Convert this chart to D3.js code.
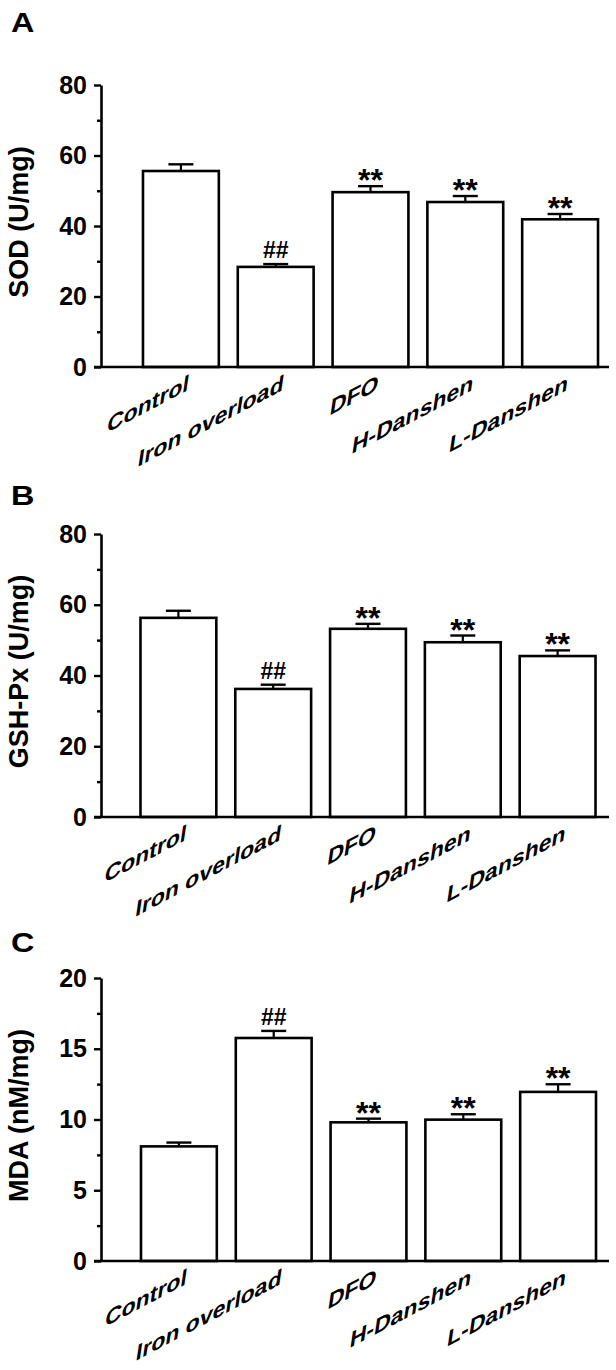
<!DOCTYPE html>
<html>
<head>
<meta charset="utf-8">
<script src="https://cdn.jsdelivr.net/npm/d3@7"></script>
<style>
  html, body { margin: 0; padding: 0; background: #fff; }
  svg { display: block; font-family: "Liberation Sans", Arial, sans-serif; }
</style>
</head>
<body>
<svg id="chart" width="616" height="1370"></svg>
<script>
// ---- data ----
const categories = ["Control", "Iron overload", "DFO", "H-Danshen", "L-Danshen"];

const sodMean = [55.6, 28.4, 49.6, 46.8, 41.9];
const sodSem  = [1.9, 0.8, 1.7, 1.7, 1.5];
const sodMarks = ["", "##", "**", "**", "**"];
const sodTicks = [0, 20, 40, 60, 80];
const sodMinor = [10, 30, 50, 70];

const gshMean = [56.3, 36.2, 53.2, 49.4, 45.5];
const gshSem  = [2.0, 1.2, 1.4, 1.9, 1.6];
const gshMarks = ["", "##", "**", "**", "**"];
const gshTicks = [0, 20, 40, 60, 80];
const gshMinor = [10, 30, 50, 70];

const mdaMean = [8.1, 15.76, 9.8, 9.99, 11.95];
const mdaSem  = [0.27, 0.5, 0.26, 0.38, 0.54];
const mdaMarks = ["", "##", "**", "**", "**"];
const mdaTicks = [0, 5, 10, 15, 20];
const mdaMinor = [2.5, 7.5, 12.5, 17.5];

const panelLetters = ["A", "B", "C"];
const yTitles = ["SOD (U/mg)", "GSH-Px (U/mg)", "MDA (nM/mg)"];

// ---- layout ----
const svg = d3.select("#chart");
const axisX = 101;
const xEnd = 609;
const panels = [
  { letter: panelLetters[0], title: yTitles[0], mean: sodMean, sem: sodSem, marks: sodMarks, ticks: sodTicks, minor: sodMinor, max: 80, top: 85, bottom: 367, letterY: 32, shift: 0 },
  { letter: panelLetters[1], title: yTitles[1], mean: gshMean, sem: gshSem, marks: gshMarks, ticks: gshTicks, minor: gshMinor, max: 80, top: 534, bottom: 817, letterY: 505, shift: -2.5 },
  { letter: panelLetters[2], title: yTitles[2], mean: mdaMean, sem: mdaSem, marks: mdaMarks, ticks: mdaTicks, minor: mdaMinor, max: 20, top: 978, bottom: 1261, letterY: 952, shift: -2 }
];

panels.forEach(p => {
  const g = svg.append("g");
  const y = d3.scaleLinear().domain([0, p.max]).range([p.bottom, p.top]);
  const x = d3.scaleBand()
    .domain(categories)
    .range([133.5 + p.shift, 607.5 + p.shift])
    .paddingInner(0.2)
    .paddingOuter(0.1);
  const cx = c => x(c) + x.bandwidth() / 2;

  // panel letter
  g.append("text")
    .attr("transform", `translate(11,${p.letterY}) scale(1.2,1)`)
    .attr("font-size", 27).attr("font-weight", "bold")
    .text(p.letter);

  // y title
  g.append("text")
    .attr("transform", `translate(28,${(p.top + p.bottom) / 2 - 4}) rotate(-90)`)
    .attr("text-anchor", "middle")
    .attr("font-size", 27).attr("font-weight", "bold")
    .text(p.title);

  const data = categories.map((c, i) => ({ c, m: p.mean[i], s: p.sem[i], mark: p.marks[i] }));

  // error bars (upper half)
  g.selectAll(".err").data(data).join("line")
    .attr("x1", d => cx(d.c)).attr("x2", d => cx(d.c))
    .attr("y1", d => y(d.m)).attr("y2", d => y(d.m + d.s))
    .attr("stroke", "#000").attr("stroke-width", 2.2);
  g.selectAll(".cap").data(data).join("line")
    .attr("x1", d => cx(d.c) - 12.5).attr("x2", d => cx(d.c) + 12.5)
    .attr("y1", d => y(d.m + d.s)).attr("y2", d => y(d.m + d.s))
    .attr("stroke", "#000").attr("stroke-width", 2.4);

  // bars
  g.selectAll(".bar").data(data).join("rect")
    .attr("x", d => x(d.c))
    .attr("y", d => y(d.m))
    .attr("width", x.bandwidth())
    .attr("height", d => y(0) - y(d.m))
    .attr("fill", "#fff").attr("stroke", "#000").attr("stroke-width", 2.6);

  // significance marks
  g.selectAll(".mark").data(data.filter(d => d.mark)).join("text")
    .attr("x", d => cx(d.c))
    .attr("y", d => d.mark === "**" ? y(d.m + d.s) + 5 : y(d.m + d.s) - 6)
    .attr("text-anchor", "middle")
    .attr("font-weight", "bold")
    .attr("font-size", d => d.mark === "**" ? 32 : 23)
    .text(d => d.mark);

  // y axis: major ticks
  const yAxis = d3.axisLeft(y).tickValues(p.ticks).tickSize(7).tickSizeOuter(0).tickPadding(7);
  const ya = g.append("g").attr("transform", `translate(${axisX},0)`).call(yAxis);
  ya.select(".domain").attr("stroke-width", 2.6);
  ya.selectAll(".tick line").attr("stroke-width", 2.4);
  ya.selectAll(".tick text")
    .attr("font-size", 25).attr("font-weight", "bold")
    .attr("font-family", "'Liberation Sans', Arial, sans-serif")
    .attr("fill", "#000");
  // minor ticks
  const yMinor = d3.axisLeft(y).tickValues(p.minor).tickSize(4).tickFormat("");
  const ym = g.append("g").attr("transform", `translate(${axisX},0)`).call(yMinor);
  ym.select(".domain").remove();
  ym.selectAll(".tick line").attr("stroke-width", 2.4);

  // x axis line
  g.append("line")
    .attr("x1", axisX - 7).attr("x2", xEnd)
    .attr("y1", y(0)).attr("y2", y(0))
    .attr("stroke", "#000").attr("stroke-width", 2.6);

  // category labels (sheared, rising to the right)
  g.selectAll(".cat").data(categories).join("text")
    .attr("transform", c => `translate(${cx(c) + 7},${y(0) + 23}) matrix(1,-0.53,-0.15,1,0,0)`)
    .attr("text-anchor", "end")
    .attr("font-size", 23).attr("font-weight", "bold")
    .text(c => c);
});
</script>
</body>
</html>
